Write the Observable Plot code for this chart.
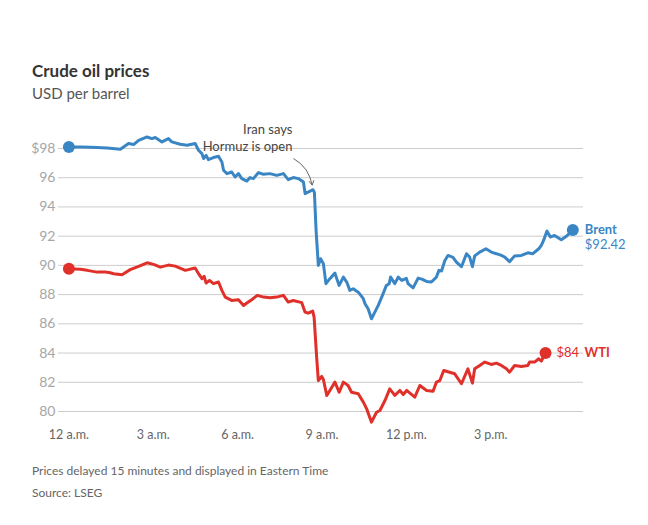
<!DOCTYPE html>
<html>
<head>
<meta charset="utf-8">
<script src="https://cdn.jsdelivr.net/npm/d3@7"></script>
<script src="https://cdn.jsdelivr.net/npm/@observablehq/plot@0.6"></script>
<style>
  html, body { margin: 0; padding: 0; background: #fff; }
  body { width: 648px; height: 525px; position: relative; font-family: Lato, "Noto Sans", sans-serif; overflow: hidden; }
  .t { position: absolute; left: 32px; white-space: nowrap; line-height: 1; }
  #title { top: 62px; font-size: 17px; font-weight: 700; color: #333; }
  #subtitle { top: 86px; font-size: 15px; color: #555; }
  #note { top: 465px; font-size: 12px; color: #666; }
  #source { top: 487px; font-size: 12px; color: #666; }
  #chart { position: absolute; left: 0; top: 110px; }
</style>
</head>
<body>
<div class="t" id="title">Crude oil prices</div>
<div class="t" id="subtitle">USD per barrel</div>
<div id="chart"></div>
<div class="t" id="note">Prices delayed 15 minutes and displayed in Eastern Time</div>
<div class="t" id="source">Source: LSEG</div>
<script>
// Hours after midnight (Eastern Time) and price in USD per barrel
const brentHours = [0, 0.47, 1.00, 1.36, 1.83, 2.12, 2.30, 2.48, 2.78, 2.95, 3.07, 3.31, 3.54, 3.66, 3.96, 4.20, 4.49, 4.61, 4.73, 4.79, 4.88, 4.96, 5.14, 5.32, 5.44, 5.50, 5.62, 5.79, 5.91, 6.03, 6.15, 6.33, 6.44, 6.56, 6.74, 6.92, 7.15, 7.39, 7.63, 7.80, 7.98, 8.16, 8.34, 8.40, 8.51, 8.68, 8.73, 8.79, 8.87, 8.95, 9.05, 9.14, 9.28, 9.46, 9.61, 9.76, 9.88, 9.99, 10.11, 10.29, 10.47, 10.53, 10.64, 10.76, 10.88, 11.00, 11.15, 11.29, 11.39, 11.44, 11.59, 11.71, 11.84, 12.00, 12.06, 12.24, 12.42, 12.55, 12.72, 12.89, 13.07, 13.16, 13.25, 13.37, 13.48, 13.66, 13.78, 13.96, 14.14, 14.25, 14.35, 14.43, 14.61, 14.83, 15.02, 15.20, 15.38, 15.50, 15.67, 15.85, 16.09, 16.32, 16.50, 16.71, 16.80, 16.88, 17.00, 17.12, 17.27, 17.51, 17.69, 17.92];
const brentValues = [98.10, 98.10, 98.06, 98.03, 97.95, 98.34, 98.27, 98.56, 98.79, 98.68, 98.75, 98.45, 98.68, 98.45, 98.29, 98.22, 98.34, 97.88, 97.65, 97.31, 97.53, 97.24, 97.38, 97.47, 97.08, 96.51, 96.28, 96.39, 96.05, 96.28, 95.94, 95.77, 96.01, 95.94, 96.35, 96.23, 96.28, 96.16, 96.28, 95.87, 96.01, 95.94, 95.71, 94.91, 95.02, 95.18, 95.00, 92.40, 90.00, 90.46, 90.12, 88.75, 89.09, 89.47, 88.63, 89.20, 88.86, 88.29, 88.40, 88.17, 87.72, 87.38, 87.03, 86.35, 86.80, 87.26, 87.95, 88.63, 88.75, 89.20, 88.75, 89.20, 88.97, 89.11, 88.75, 88.46, 89.13, 89.06, 88.90, 88.86, 89.20, 89.66, 89.62, 90.34, 90.68, 90.55, 90.23, 89.91, 90.80, 90.57, 89.91, 90.65, 90.91, 91.14, 90.91, 90.80, 90.68, 90.57, 90.25, 90.65, 90.68, 90.86, 90.80, 91.14, 91.37, 91.71, 92.35, 91.94, 92.05, 91.76, 91.99, 92.42];

const wtiHours = [0, 0.41, 0.65, 1.00, 1.30, 1.47, 1.59, 1.89, 2.18, 2.48, 2.78, 3.01, 3.25, 3.54, 3.78, 4.14, 4.49, 4.61, 4.73, 4.81, 4.88, 5.00, 5.14, 5.32, 5.44, 5.56, 5.79, 6.03, 6.21, 6.33, 6.50, 6.70, 6.92, 7.15, 7.39, 7.63, 7.80, 7.98, 8.28, 8.40, 8.51, 8.67, 8.72, 8.81, 8.87, 8.99, 9.05, 9.17, 9.28, 9.46, 9.61, 9.76, 9.93, 10.05, 10.29, 10.47, 10.59, 10.76, 10.94, 11.06, 11.24, 11.41, 11.59, 11.77, 11.89, 12.01, 12.30, 12.48, 12.72, 12.95, 13.07, 13.19, 13.33, 13.54, 13.72, 13.96, 14.19, 14.35, 14.43, 14.61, 14.79, 15.02, 15.20, 15.38, 15.56, 15.67, 15.85, 16.09, 16.32, 16.38, 16.56, 16.71, 16.80, 16.95];
const wtiValues = [89.77, 89.73, 89.66, 89.54, 89.54, 89.50, 89.43, 89.36, 89.71, 89.93, 90.18, 90.07, 89.88, 90.02, 89.95, 89.66, 89.82, 89.43, 89.09, 89.25, 88.79, 88.97, 88.75, 88.86, 88.29, 87.83, 87.60, 87.65, 87.26, 87.42, 87.65, 87.95, 87.83, 87.79, 87.83, 87.95, 87.49, 87.60, 87.45, 86.80, 86.73, 86.87, 86.46, 83.72, 82.12, 82.40, 82.19, 81.10, 81.44, 82.01, 81.32, 82.01, 81.78, 81.32, 81.21, 80.64, 80.18, 79.27, 79.95, 80.07, 80.75, 81.55, 81.10, 81.44, 81.16, 81.44, 80.98, 81.78, 81.44, 81.39, 82.01, 82.12, 82.81, 82.69, 82.58, 81.90, 82.92, 81.94, 82.92, 83.15, 83.38, 83.22, 83.31, 83.15, 82.92, 82.69, 83.15, 83.08, 83.15, 83.38, 83.38, 83.61, 83.45, 84.00];

const xTicks = [0, 3, 6, 9, 12, 15];
const xTickLabels = ["12 a.m.", "3 a.m.", "6 a.m.", "9 a.m.", "12 p.m.", "3 p.m."];
const yTicks = [80, 82, 84, 86, 88, 90, 92, 94, 96, 98];
const yTickLabels = ["80", "82", "84", "86", "88", "90", "92", "94", "96", "$98"];

const seriesNames = ["Brent", "WTI"];
const seriesColors = ["#3a86c5", "#e0302a"];
const lastPriceLabels = ["$92.42", "$84"];

const annotationText = "Iran says\nHormuz is open";
const annotationAt = {hour: 7.95, value: 98.8};
const arrowFrom = {hour: 8.0, value: 97.3};
const arrowTo = {hour: 8.65, value: 95.5};

const brent = brentHours.map((h, i) => ({hour: h, value: brentValues[i], series: "Brent"}));
const wti = wtiHours.map((h, i) => ({hour: h, value: wtiValues[i], series: "WTI"}));
const all = brent.concat(wti);
const ends = [brent[0], brent[brent.length - 1], wti[0], wti[wti.length - 1]];
const bLast = brent[brent.length - 1];
const wLast = wti[wti.length - 1];

const plot = Plot.plot({
  width: 648,
  height: 345,
  marginLeft: 58,
  marginRight: 65,
  marginTop: 38,
  marginBottom: 44,
  style: {fontFamily: "Lato, 'Noto Sans', sans-serif", background: "transparent", overflow: "visible"},
  x: {domain: [-0.37, 18.3]},
  y: {domain: [80, 98]},
  color: {domain: seriesNames, range: seriesColors},
  marks: [
    Plot.ruleY(yTicks, {stroke: "#cccccc", strokeWidth: 1}),
    Plot.axisY(yTicks, {tickSize: 0, tickPadding: 3, tickFormat: d => yTickLabels[yTicks.indexOf(d)], fill: "#a6a6a6", fontSize: 14, label: null}),
    Plot.axisX(xTicks, {tickSize: 0, tickPadding: 19, tickFormat: d => xTickLabels[xTicks.indexOf(d)], fill: "#666", fontSize: 12.5, label: null}),
    Plot.line(all, {x: "hour", y: "value", z: "series", stroke: "series", strokeWidth: 3, strokeLinejoin: "round"}),
    Plot.dot(ends, {x: "hour", y: "value", fill: "series", r: 6}),
    Plot.text([annotationAt], {x: "hour", y: "value", text: () => annotationText, textAnchor: "end", lineAnchor: "middle", lineHeight: 1.3, fontSize: 13, fill: "#444"}),
    Plot.arrow([{x1: arrowFrom.hour, y1: arrowFrom.value, x2: arrowTo.hour, y2: arrowTo.value}], {x1: "x1", y1: "y1", x2: "x2", y2: "y2", bend: 25, stroke: "#666", strokeWidth: 1, headLength: 7}),
    Plot.text([bLast], {x: "hour", y: "value", text: () => seriesNames[0], dx: 12, textAnchor: "start", fontWeight: "bold", fontSize: 13, fill: seriesColors[0]}),
    Plot.text([bLast], {x: "hour", y: "value", text: () => lastPriceLabels[0], dx: 12, dy: 15, textAnchor: "start", fontSize: 13, fill: seriesColors[0]}),
    Plot.text([wLast], {x: "hour", y: "value", text: () => lastPriceLabels[1], dx: 11, textAnchor: "start", fontSize: 13, fill: seriesColors[1]}),
    Plot.text([wLast], {x: "hour", y: "value", text: () => seriesNames[1], dx: 39, textAnchor: "start", fontWeight: "bold", fontSize: 13, fill: seriesColors[1]})
  ]
});
document.getElementById("chart").appendChild(plot);
</script>
</body>
</html>
